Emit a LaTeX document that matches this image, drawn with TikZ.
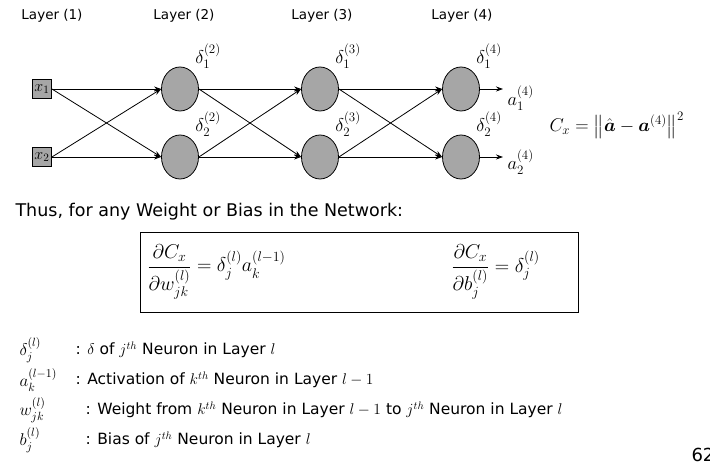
\RequirePackage{fix-cm}
\documentclass[tikz,border=0pt]{standalone}
\usepackage{amsmath,amssymb,bm}
\usepackage{fontspec}
\setmainfont{DejaVu Sans}
\usetikzlibrary{arrows.meta,shapes.geometric,calc}
\begin{document}
\begin{tikzpicture}[x=1pt,y=-1pt,
  inp/.style={draw,thick,fill=gray!70,minimum size=19pt,inner sep=0pt,font=\fontsize{16}{17}\selectfont},
  neu/.style={draw,thick,fill=gray!70,ellipse,minimum width=37pt,minimum height=44pt,inner sep=0pt},
  con/.style={thick,-{Stealth[length=7pt,width=5pt]}},
  lay/.style={font=\fontsize{13.5}{15}\selectfont},
  dl/.style={font=\fontsize{18.5}{20}\selectfont},
  fm/.style={font=\fontsize{20}{22}\selectfont,anchor=west},
  lg/.style={font=\fontsize{15.5}{18}\selectfont,anchor=west},
  lm/.style={font=\fontsize{17}{18}\selectfont,anchor=west}]
\useasboundingbox (0,0) rectangle (710,473);
\node[lay] (L1) at (52,16) {Layer (1)};
\node[lay] (L2) at (184,16) {Layer (2)};
\node[lay] (L3) at (322,16) {Layer (3)};
\node[lay] (L4) at (462,16) {Layer (4)};
\node[inp] (x1) at (42,89) {$x_1$};
\node[inp] (x2) at (42,157) {$x_2$};
\foreach \c/\x in {a/180,b/320,c/461}{
  \node[neu] (\c1) at (\x,89) {};
  \node[neu] (\c2) at (\x,157) {};
}
\foreach \s/\t in {x/a,a/b,b/c}{
  \draw[con] (\s1.east) -- (\t1.west);
  \draw[con] (\s2.east) -- (\t2.west);
  \draw[con] (\s1.east) -- (\t2.west);
  \draw[con] (\s2.east) -- (\t1.west);
}
\foreach \c/\n in {a/2,b/3,c/4}{
  \node[dl] (d\c1) at ($(\c1)+(28,-33)$) {$\delta_1^{(\n)}$};
  \node[dl] (d\c2) at ($(\c2)+(28,-33)$) {$\delta_2^{(\n)}$};
}
\coordinate (o1) at (503,89);
\coordinate (o2) at (503,157);
\draw[con] (c1.east) -- (o1);
\draw[con] (c2.east) -- (o2);
\node[dl,anchor=west] (a1) at (504,98) {$a_1^{(4)}$};
\node[dl,anchor=west] (a2) at (504,162) {$a_2^{(4)}$};
\node[dl,anchor=west] (cx) at (546,125) {$C_x=\left\lVert\hat{\bm a}-\bm a^{(4)}\right\rVert^2$};
\node[anchor=west,font=\fontsize{17.5}{20}\selectfont] (thus) at (12,212) {Thus, for any Weight or Bias in the Network:};
\node[draw,thick,minimum width=438pt,minimum height=80pt,inner sep=0pt] (box) at (359,272) {};
\node[fm] (f1) at (144,272) {$\dfrac{\partial C_x}{\partial w_{jk}^{(l)}}=\delta_j^{(l)}a_k^{(l-1)}$};
\node[fm] (f2) at (448,272) {$\dfrac{\partial C_x}{\partial b_{j}^{(l)}}=\delta_j^{(l)}$};
\node[lm] (g1) at (16,350) {$\delta_j^{(l)}$};
\node[lg] (t1) at (72,350) {: $\delta$ of $j^{th}$ Neuron in Layer $l$};
\node[lm] (g2) at (16,380) {$a_k^{(l-1)}$};
\node[lg] (t2) at (72,380) {: Activation of $k^{th}$ Neuron in Layer $l-1$};
\node[lm] (g3) at (16,410) {$w_{jk}^{(l)}$};
\node[lg] (t3) at (82,410) {: Weight from $k^{th}$ Neuron in Layer $l-1$ to $j^{th}$ Neuron in Layer $l$};
\node[lm] (g4) at (16,440) {$b_j^{(l)}$};
\node[lg] (t4) at (82,440) {: Bias of $j^{th}$ Neuron in Layer $l$};
\node[anchor=west,font=\fontsize{18}{20}\selectfont] (pg) at (688,455) {62};
\end{tikzpicture}
\end{document}
